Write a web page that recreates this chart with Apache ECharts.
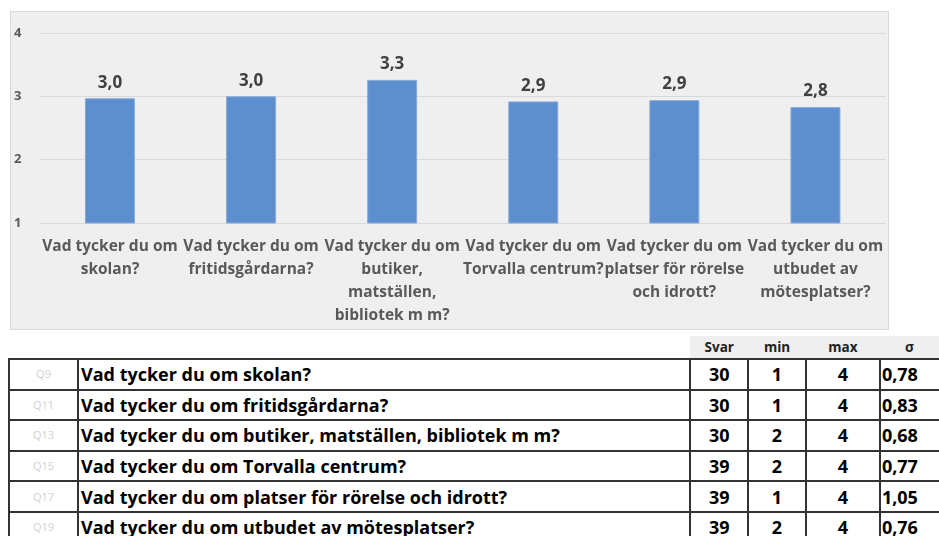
<!DOCTYPE html>
<html>
<head>
<meta charset="utf-8">
<script src="https://cdn.jsdelivr.net/npm/echarts@6/dist/echarts.min.js"></script>
<style>
  html, body { margin: 0; padding: 0; background: #fff; width: 939px; height: 536px; overflow: hidden; }
  #chart { position: absolute; left: 10px; top: 11px; width: 877px; height: 317px; background: #efefef; border: 1px solid #d9d9d9; }
  #tbl { position: absolute; left: 8px; top: 336px; border-collapse: collapse; font-family: "Open Sans", sans-serif; table-layout: fixed; }
  #tbl td { border: 2px solid #333; padding: 0; height: 28.6px; font-weight: bold; font-size: 18px; color: #000; white-space: nowrap; overflow: hidden; line-height: 20px; }
  #tbl tr.head td { border: none; border-bottom: 2px solid #333; background: #efefef; font-size: 13.5px; height: 22px; text-align: center; color: #222; }
  #tbl tr.head td.blank { background: transparent; border-bottom: 2px solid #333; }
  #tbl td.q { color: #d0d0d0; font-size: 11px; font-weight: normal; text-align: center; }
  #tbl td.txt { padding-left: 2px; }
  #tbl td.num { text-align: center; }
  #tbl td.sd { text-align: left; padding-left: 1px; border-right: none; }
</style>
</head>
<body>
<div id="chart"></div>
<table id="tbl"></table>
<script>
// ---- data ----
const categories = [
  'Vad tycker du om\nskolan?',
  'Vad tycker du om\nfritidsgårdarna?',
  'Vad tycker du om\nbutiker,\nmatställen,\nbibliotek m m?',
  'Vad tycker du om\nTorvalla centrum?',
  'Vad tycker du om\nplatser för rörelse\noch idrott?',
  'Vad tycker du om\nutbudet av\nmötesplatser?'
];
const means = [2.97, 3.0, 3.26, 2.92, 2.94, 2.83];
const yTicks = [1, 2, 3, 4];

const qCodes = ['Q9', 'Q11', 'Q13', 'Q15', 'Q17', 'Q19'];
const questions = [
  'Vad tycker du om skolan?',
  'Vad tycker du om fritidsgårdarna?',
  'Vad tycker du om butiker, matställen, bibliotek m m?',
  'Vad tycker du om Torvalla centrum?',
  'Vad tycker du om platser för rörelse och idrott?',
  'Vad tycker du om utbudet av mötesplatser?'
];
const svar = [30, 30, 30, 39, 39, 39];
const mins = [1, 1, 2, 2, 1, 2];
const maxs = [4, 4, 4, 4, 4, 4];
const sigma = ['0,78', '0,83', '0,68', '0,77', '1,05', '0,76'];
const headers = ['Svar', 'min', 'max', 'σ'];

// ---- chart ----
const FONT = '"Open Sans", sans-serif';
const chart = echarts.init(document.getElementById('chart'), null, { renderer: 'canvas' });
chart.setOption({
  animation: false,
  grid: { left: 25, right: 2, top: 21, bottom: 106 },
  xAxis: {
    type: 'category',
    data: categories,
    axisLine: { show: false },
    axisTick: { show: false },
    axisLabel: {
      interval: 0, margin: 12,
      fontFamily: FONT, fontWeight: 'bold', fontSize: 15.5,
      lineHeight: 23, color: '#595959'
    }
  },
  yAxis: {
    type: 'value',
    min: yTicks[0], max: yTicks[yTicks.length - 1], interval: 1,
    axisLine: { show: false },
    axisTick: { show: false },
    splitLine: { lineStyle: { color: '#d9d9d9', width: 1 } },
    axisLabel: {
      margin: 18, fontFamily: FONT, fontWeight: 'bold', fontSize: 13, color: '#595959'
    }
  },
  series: [{
    type: 'bar',
    data: means,
    barWidth: 50,
    itemStyle: { color: '#5d8fce', borderColor: '#86aadb', borderWidth: 1 },
    label: {
      show: true, position: 'top', distance: 7,
      fontFamily: FONT, fontWeight: 'bold', fontSize: 17, color: '#404040',
      formatter: p => p.value.toFixed(1).replace('.', ',')
    }
  }]
});

// ---- table ----
const tbl = document.getElementById('tbl');
const colW = [71, 618, 59, 59, 76, 60];
let cg = '<colgroup>' + colW.map(w => `<col style="width:${w}px">`).join('') + '</colgroup>';
let html = cg + '<tr class="head"><td class="blank"></td><td class="blank"></td>' +
  headers.map(h => `<td>${h}</td>`).join('') + '</tr>';
for (let i = 0; i < questions.length; i++) {
  html += `<tr><td class="q">${qCodes[i]}</td><td class="txt">${questions[i]}</td>` +
    `<td class="num">${svar[i]}</td><td class="num">${mins[i]}</td><td class="num">${maxs[i]}</td>` +
    `<td class="sd">${sigma[i]}</td></tr>`;
}
tbl.innerHTML = html;
</script>
</body>
</html>
